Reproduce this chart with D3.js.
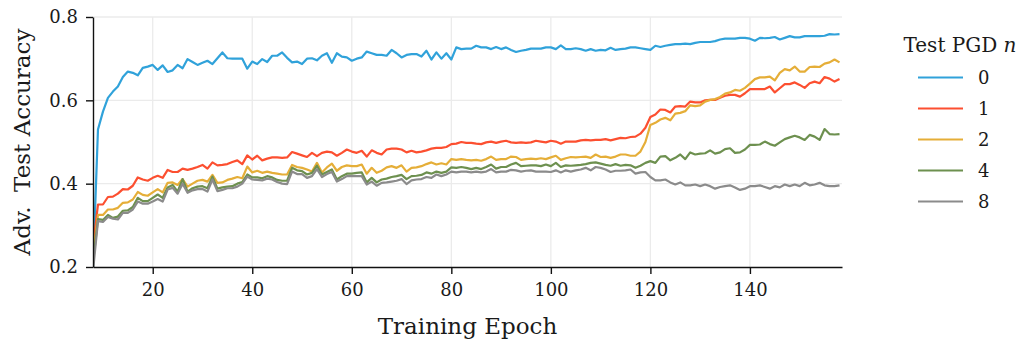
<!DOCTYPE html>
<html>
    <head>
        <script src="https://d3js.org/d3.v7.min.js"></script>
        <style>
            body { margin: 0; background: #fff; }
            text { font-family: "DejaVu Serif", serif; fill: #1a1a1a; }
        </style>
    </head>
    <body>
        <svg class="chart" width="1023" height="341"></svg>
    <script>
        // epochs 8..158, one value per epoch
        var epochs = d3.range(8, 159);
        var seriesNames = ["0", "1", "2", "4", "8"];
        var colors = ["#30a2da", "#fc4f30", "#e5ae38", "#6d904f", "#8b8b8b"];
        var xTicks = [20, 40, 60, 80, 100, 120, 140];
        var yTicks = [0.2, 0.4, 0.6, 0.8];

        var pgd0 = [0.20,0.53,0.573,0.606,0.621,0.633,0.656,0.669,0.666,0.660,0.678,0.681,0.685,0.673,0.684,0.668,0.672,0.685,0.677,0.699,
            0.692,0.685,0.690,0.695,0.687,0.701,0.715,0.701,0.700,0.700,0.700,0.676,0.693,0.687,0.699,0.692,0.707,0.707,0.715,0.702,
            0.691,0.693,0.687,0.700,0.701,0.696,0.707,0.713,0.690,0.713,0.705,0.703,0.695,0.700,0.703,0.717,0.713,0.709,0.709,0.707,
            0.721,0.713,0.703,0.709,0.711,0.711,0.705,0.719,0.698,0.715,0.700,0.713,0.698,0.727,0.723,0.724,0.724,0.731,0.727,0.727,
            0.723,0.728,0.723,0.727,0.721,0.716,0.719,0.721,0.724,0.724,0.724,0.727,0.727,0.723,0.732,0.723,0.723,0.725,0.723,0.719,
            0.723,0.719,0.721,0.720,0.726,0.721,0.723,0.724,0.727,0.727,0.725,0.723,0.721,0.731,0.728,0.731,0.733,0.735,0.735,0.736,
            0.735,0.738,0.740,0.740,0.740,0.742,0.746,0.748,0.748,0.748,0.750,0.750,0.748,0.743,0.750,0.749,0.750,0.752,0.746,0.750,
            0.754,0.751,0.751,0.754,0.754,0.754,0.754,0.755,0.759,0.758,0.759];
        var pgd1 = [0.25,0.35,0.35,0.368,0.369,0.376,0.387,0.386,0.395,0.415,0.41,0.407,0.414,0.419,0.414,0.433,0.428,0.428,0.436,0.433,
            0.436,0.44,0.445,0.436,0.451,0.444,0.445,0.447,0.452,0.456,0.447,0.468,0.458,0.467,0.456,0.46,0.463,0.463,0.462,0.463,
            0.476,0.472,0.468,0.464,0.474,0.466,0.474,0.477,0.475,0.467,0.474,0.482,0.477,0.474,0.479,0.465,0.48,0.474,0.47,0.482,
            0.484,0.484,0.482,0.475,0.479,0.475,0.477,0.48,0.484,0.486,0.486,0.488,0.495,0.496,0.50,0.498,0.498,0.496,0.495,0.499,
            0.501,0.498,0.501,0.503,0.499,0.498,0.499,0.498,0.499,0.503,0.501,0.499,0.503,0.501,0.496,0.501,0.501,0.501,0.504,0.505,
            0.504,0.505,0.505,0.507,0.504,0.507,0.51,0.509,0.512,0.513,0.52,0.534,0.56,0.566,0.578,0.577,0.571,0.585,0.586,0.585,
            0.597,0.595,0.595,0.60,0.601,0.601,0.606,0.611,0.613,0.613,0.609,0.617,0.627,0.627,0.627,0.627,0.633,0.619,0.629,0.639,
            0.639,0.643,0.637,0.63,0.641,0.645,0.641,0.656,0.652,0.645,0.651];
        var pgd2 = [0.23,0.325,0.325,0.338,0.338,0.342,0.354,0.355,0.362,0.38,0.373,0.371,0.379,0.387,0.379,0.402,0.403,0.397,0.411,0.393,
            0.40,0.407,0.409,0.405,0.421,0.402,0.403,0.409,0.412,0.416,0.413,0.441,0.427,0.431,0.426,0.429,0.426,0.424,0.422,0.422,
            0.445,0.44,0.438,0.434,0.429,0.45,0.427,0.439,0.448,0.431,0.44,0.444,0.442,0.442,0.446,0.424,0.438,0.426,0.431,0.439,
            0.442,0.438,0.444,0.429,0.438,0.439,0.442,0.447,0.451,0.446,0.449,0.446,0.459,0.457,0.459,0.457,0.456,0.457,0.455,0.459,
            0.465,0.457,0.459,0.459,0.465,0.464,0.457,0.459,0.46,0.459,0.461,0.459,0.463,0.467,0.457,0.461,0.464,0.463,0.464,0.465,
            0.462,0.47,0.464,0.465,0.462,0.465,0.47,0.47,0.467,0.467,0.477,0.50,0.541,0.546,0.554,0.558,0.552,0.568,0.57,0.574,
            0.588,0.586,0.588,0.597,0.601,0.603,0.608,0.616,0.619,0.625,0.623,0.63,0.64,0.651,0.655,0.655,0.657,0.648,0.666,0.675,
            0.672,0.681,0.669,0.669,0.68,0.681,0.68,0.688,0.691,0.698,0.691];
        var pgd4 = [0.21,0.315,0.313,0.325,0.318,0.321,0.335,0.336,0.344,0.366,0.358,0.358,0.366,0.374,0.366,0.391,0.397,0.381,0.411,0.381,
            0.389,0.393,0.394,0.389,0.417,0.388,0.391,0.393,0.394,0.40,0.404,0.422,0.415,0.415,0.413,0.418,0.415,0.409,0.407,0.407,
            0.438,0.432,0.43,0.422,0.426,0.443,0.422,0.428,0.434,0.41,0.418,0.424,0.424,0.426,0.427,0.403,0.414,0.403,0.41,0.412,
            0.416,0.418,0.421,0.411,0.418,0.419,0.421,0.427,0.424,0.429,0.426,0.429,0.439,0.438,0.44,0.438,0.435,0.438,0.435,0.44,
            0.446,0.436,0.44,0.44,0.446,0.45,0.442,0.443,0.444,0.444,0.442,0.446,0.442,0.45,0.44,0.444,0.443,0.444,0.445,0.447,
            0.45,0.451,0.448,0.445,0.443,0.447,0.443,0.445,0.444,0.438,0.443,0.45,0.454,0.45,0.465,0.466,0.456,0.462,0.47,0.459,
            0.475,0.47,0.472,0.473,0.48,0.472,0.475,0.483,0.485,0.474,0.475,0.482,0.493,0.493,0.494,0.501,0.495,0.491,0.499,0.507,
            0.511,0.515,0.511,0.505,0.517,0.513,0.505,0.531,0.519,0.518,0.519];
        var pgd8 = [0.19,0.31,0.308,0.32,0.316,0.314,0.33,0.33,0.338,0.357,0.352,0.352,0.357,0.363,0.357,0.386,0.39,0.376,0.40,0.378,
            0.384,0.387,0.387,0.381,0.41,0.382,0.385,0.389,0.389,0.393,0.40,0.417,0.41,0.409,0.408,0.412,0.41,0.404,0.40,0.399,
            0.429,0.423,0.423,0.414,0.418,0.435,0.416,0.423,0.428,0.405,0.411,0.418,0.418,0.418,0.418,0.398,0.405,0.395,0.402,0.403,
            0.405,0.407,0.411,0.399,0.408,0.41,0.411,0.416,0.414,0.422,0.418,0.422,0.429,0.427,0.429,0.429,0.427,0.429,0.427,0.429,
            0.435,0.427,0.429,0.429,0.433,0.432,0.429,0.431,0.432,0.429,0.429,0.429,0.428,0.432,0.427,0.432,0.429,0.432,0.434,0.438,
            0.432,0.44,0.438,0.434,0.428,0.431,0.431,0.432,0.434,0.424,0.427,0.428,0.416,0.408,0.408,0.41,0.403,0.398,0.403,0.396,
            0.396,0.398,0.394,0.398,0.394,0.388,0.392,0.394,0.396,0.391,0.385,0.388,0.394,0.394,0.396,0.392,0.388,0.394,0.391,0.398,
            0.394,0.398,0.394,0.402,0.396,0.398,0.402,0.396,0.394,0.394,0.396];

        var allSeries = [pgd0, pgd1, pgd2, pgd4, pgd8];

        // plot box in pixels ("top" is reserved on window, so prefix these)
        var pLeft = 93, pRight = 842, pTop = 17, pBottom = 267;
        var svg = d3.select("svg.chart");

        var x = d3.scaleLinear().domain([8, 158.5]).range([pLeft, pRight]);
        var y = d3.scaleLinear().domain([0.2, 0.8]).range([pBottom, pTop]);

        svg.append("defs").append("clipPath").attr("id", "plotclip")
            .append("rect")
            .attr("x", pLeft).attr("y", pTop - 2)
            .attr("width", pRight - pLeft).attr("height", pBottom - pTop + 2);

        // grid
        var grid = svg.append("g").attr("class", "grid");
        grid.selectAll("line.vgrid").data(xTicks).enter().append("line")
            .attr("x1", d => x(d)).attr("x2", d => x(d))
            .attr("y1", pTop).attr("y2", pBottom)
            .attr("stroke", "#ebebeb").attr("stroke-width", 1.3);
        grid.selectAll("line.hgrid").data(yTicks.slice(1)).enter().append("line")
            .attr("x1", pLeft).attr("x2", pRight)
            .attr("y1", d => y(d)).attr("y2", d => y(d))
            .attr("stroke", "#ebebeb").attr("stroke-width", 1.3);

        // lines
        var line = d3.line()
            .x((d, i) => x(epochs[i]))
            .y(d => y(d));

        svg.append("g").attr("clip-path", "url(#plotclip)")
            .selectAll("path.series").data(allSeries).enter().append("path")
            .attr("class", "series")
            .attr("d", d => line(d))
            .attr("fill", "none")
            .attr("stroke", (d, i) => colors[i])
            .attr("stroke-width", 2.2)
            .attr("stroke-linejoin", "round");

        // axes
        var xAxis = svg.append("g")
            .attr("transform", "translate(0," + pBottom + ")")
            .call(d3.axisBottom(x).tickValues(xTicks).tickSize(7).tickPadding(9).tickSizeOuter(0));
        var yAxis = svg.append("g")
            .attr("transform", "translate(" + pLeft + ",0)")
            .call(d3.axisLeft(y).tickValues(yTicks).tickFormat(d3.format(".1f")).tickSize(7).tickPadding(8).tickSizeOuter(0));

        [xAxis, yAxis].forEach(function(ax) {
            ax.select(".domain").attr("stroke", "#111").attr("stroke-width", 1.4);
            ax.selectAll(".tick line").attr("stroke", "#111").attr("stroke-width", 1.4);
            ax.selectAll(".tick text").style("font-family", "DejaVu Serif").style("font-size", "18px").attr("fill", "#1a1a1a");
        });

        svg.append("text")
            .attr("x", (pLeft + pRight) / 2).attr("y", 334)
            .attr("text-anchor", "middle")
            .style("font-size", "23px")
            .text("Training Epoch");

        svg.append("text")
            .attr("transform", "translate(30," + ((pTop + pBottom) / 2) + ") rotate(-90)")
            .attr("text-anchor", "middle")
            .style("font-size", "23px")
            .style("white-space", "pre")
            .text("Adv.  Test Accuracy");

        // legend
        var legend = svg.append("g").attr("class", "legend");
        var title = legend.append("text")
            .attr("x", 960).attr("y", 52)
            .attr("text-anchor", "middle")
            .style("font-size", "20px");
        title.append("tspan").text("Test PGD ");
        title.append("tspan").style("font-style", "italic").text("n");

        var rows = legend.selectAll("g.row").data(seriesNames).enter().append("g")
            .attr("class", "row")
            .attr("transform", (d, i) => "translate(0," + (77.5 + i * 31) + ")");
        rows.append("line")
            .attr("x1", 918).attr("x2", 963)
            .attr("stroke", (d, i) => colors[i])
            .attr("stroke-width", 2.2);
        rows.append("text")
            .attr("x", 978).attr("y", 6.5)
            .style("font-size", "18px")
            .text(d => d);
    </script>
    </body>
</html>
